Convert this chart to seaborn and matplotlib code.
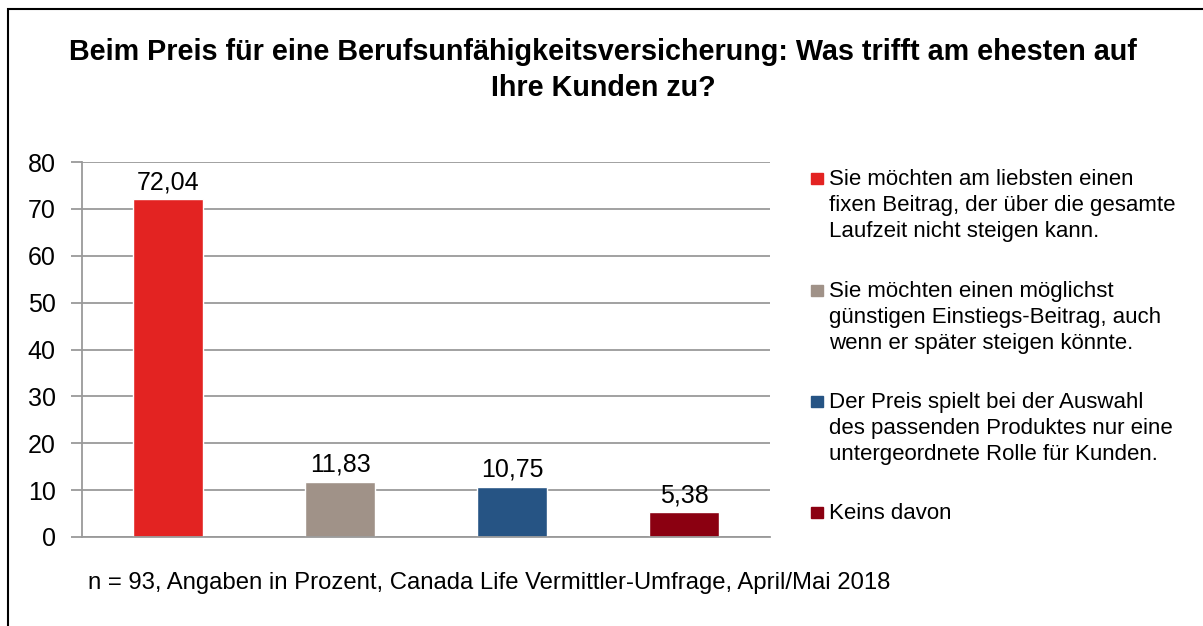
import matplotlib.pyplot as plt
import matplotlib.patches as mpatches
import seaborn as sns
import pandas as pd

# data
categories = [
    "Sie möchten am liebsten einen\nfixen Beitrag, der über die gesamte\nLaufzeit nicht steigen kann.",
    "Sie möchten einen möglichst\ngünstigen Einstiegs-Beitrag, auch\nwenn er später steigen könnte.",
    "Der Preis spielt bei der Auswahl\ndes passenden Produktes nur eine\nuntergeordnete Rolle für Kunden.",
    "Keins davon",
]
values = [72.04, 11.83, 10.75, 5.38]
value_labels = ["72,04", "11,83", "10,75", "5,38"]
colors = ["#E32322", "#A09288", "#265484", "#8B0011"]
yticks = [0, 10, 20, 30, 40, 50, 60, 70, 80]

title = "Beim Preis für eine Berufsunfähigkeitsversicherung: Was trifft am ehesten auf\nIhre Kunden zu?"
footnote = "n = 93, Angaben in Prozent, Canada Life Vermittler-Umfrage, April/Mai 2018"

sns.set_style("white")
plt.rcParams["font.family"] = ["Liberation Sans", "DejaVu Sans"]
plt.rcParams["text.color"] = "black"
plt.rcParams["ytick.labelcolor"] = "black"

W, H = 1203, 626
fig = plt.figure(figsize=(W / 100, H / 100), dpi=100)
ax = fig.add_axes([82 / W, 89 / H, (770 - 82) / W, 375 / H])

df = pd.DataFrame({"cat": categories, "val": values})
sns.barplot(data=df, x="cat", y="val", hue="cat", palette=colors,
            width=0.41, legend=False, ax=ax, saturation=1)

ax.set_ylim(0, 80)
ax.set_xlim(-0.5, len(categories) - 0.5)
ax.set_yticks(yticks)
ax.set_xticks([])
ax.set_xlabel("")
ax.set_ylabel("")
ax.tick_params(axis="y", labelsize=18, length=8, width=1.3, color="#9A9A9A",
               pad=11, left=True)
ax.yaxis.grid(True, color="#9A9A9A", linewidth=1.3)
ax.set_axisbelow(True)
for s in ["top", "right"]:
    ax.spines[s].set_visible(False)
for s in ["left", "bottom"]:
    ax.spines[s].set_color("#9A9A9A")
    ax.spines[s].set_linewidth(1.3)

for i, (v, lab) in enumerate(zip(values, value_labels)):
    ax.text(i, v + 1.0, lab, ha="center", va="bottom", fontsize=18)

fig.text(603 / W, 1 - 70 / H, title, ha="center", va="center",
         fontsize=20.7, fontweight="bold", linespacing=1.38)

fig.text(88 / W, 1 - 583 / H, footnote, ha="left", va="center", fontsize=17.2)

# legend drawn by hand so the square sits on the first line
leg_y = [178, 290, 401, 512]
for lab, c, y in zip(categories, colors, leg_y):
    fig.patches.append(mpatches.Rectangle((811 / W, 1 - (y + 6) / H), 12 / W, 11 / H,
                                          transform=fig.transFigure, color=c))
    fig.text(829 / W, 1 - (y - 9) / H, lab, ha="left", va="top",
             fontsize=16, linespacing=1.32)

fig.patches.append(mpatches.Rectangle((8 / W, -0.1), 1.1, 1 - 9 / H + 0.1,
                                      transform=fig.transFigure, fill=False,
                                      edgecolor="black", linewidth=1.5))

fig.savefig("out.png", dpi=100)
